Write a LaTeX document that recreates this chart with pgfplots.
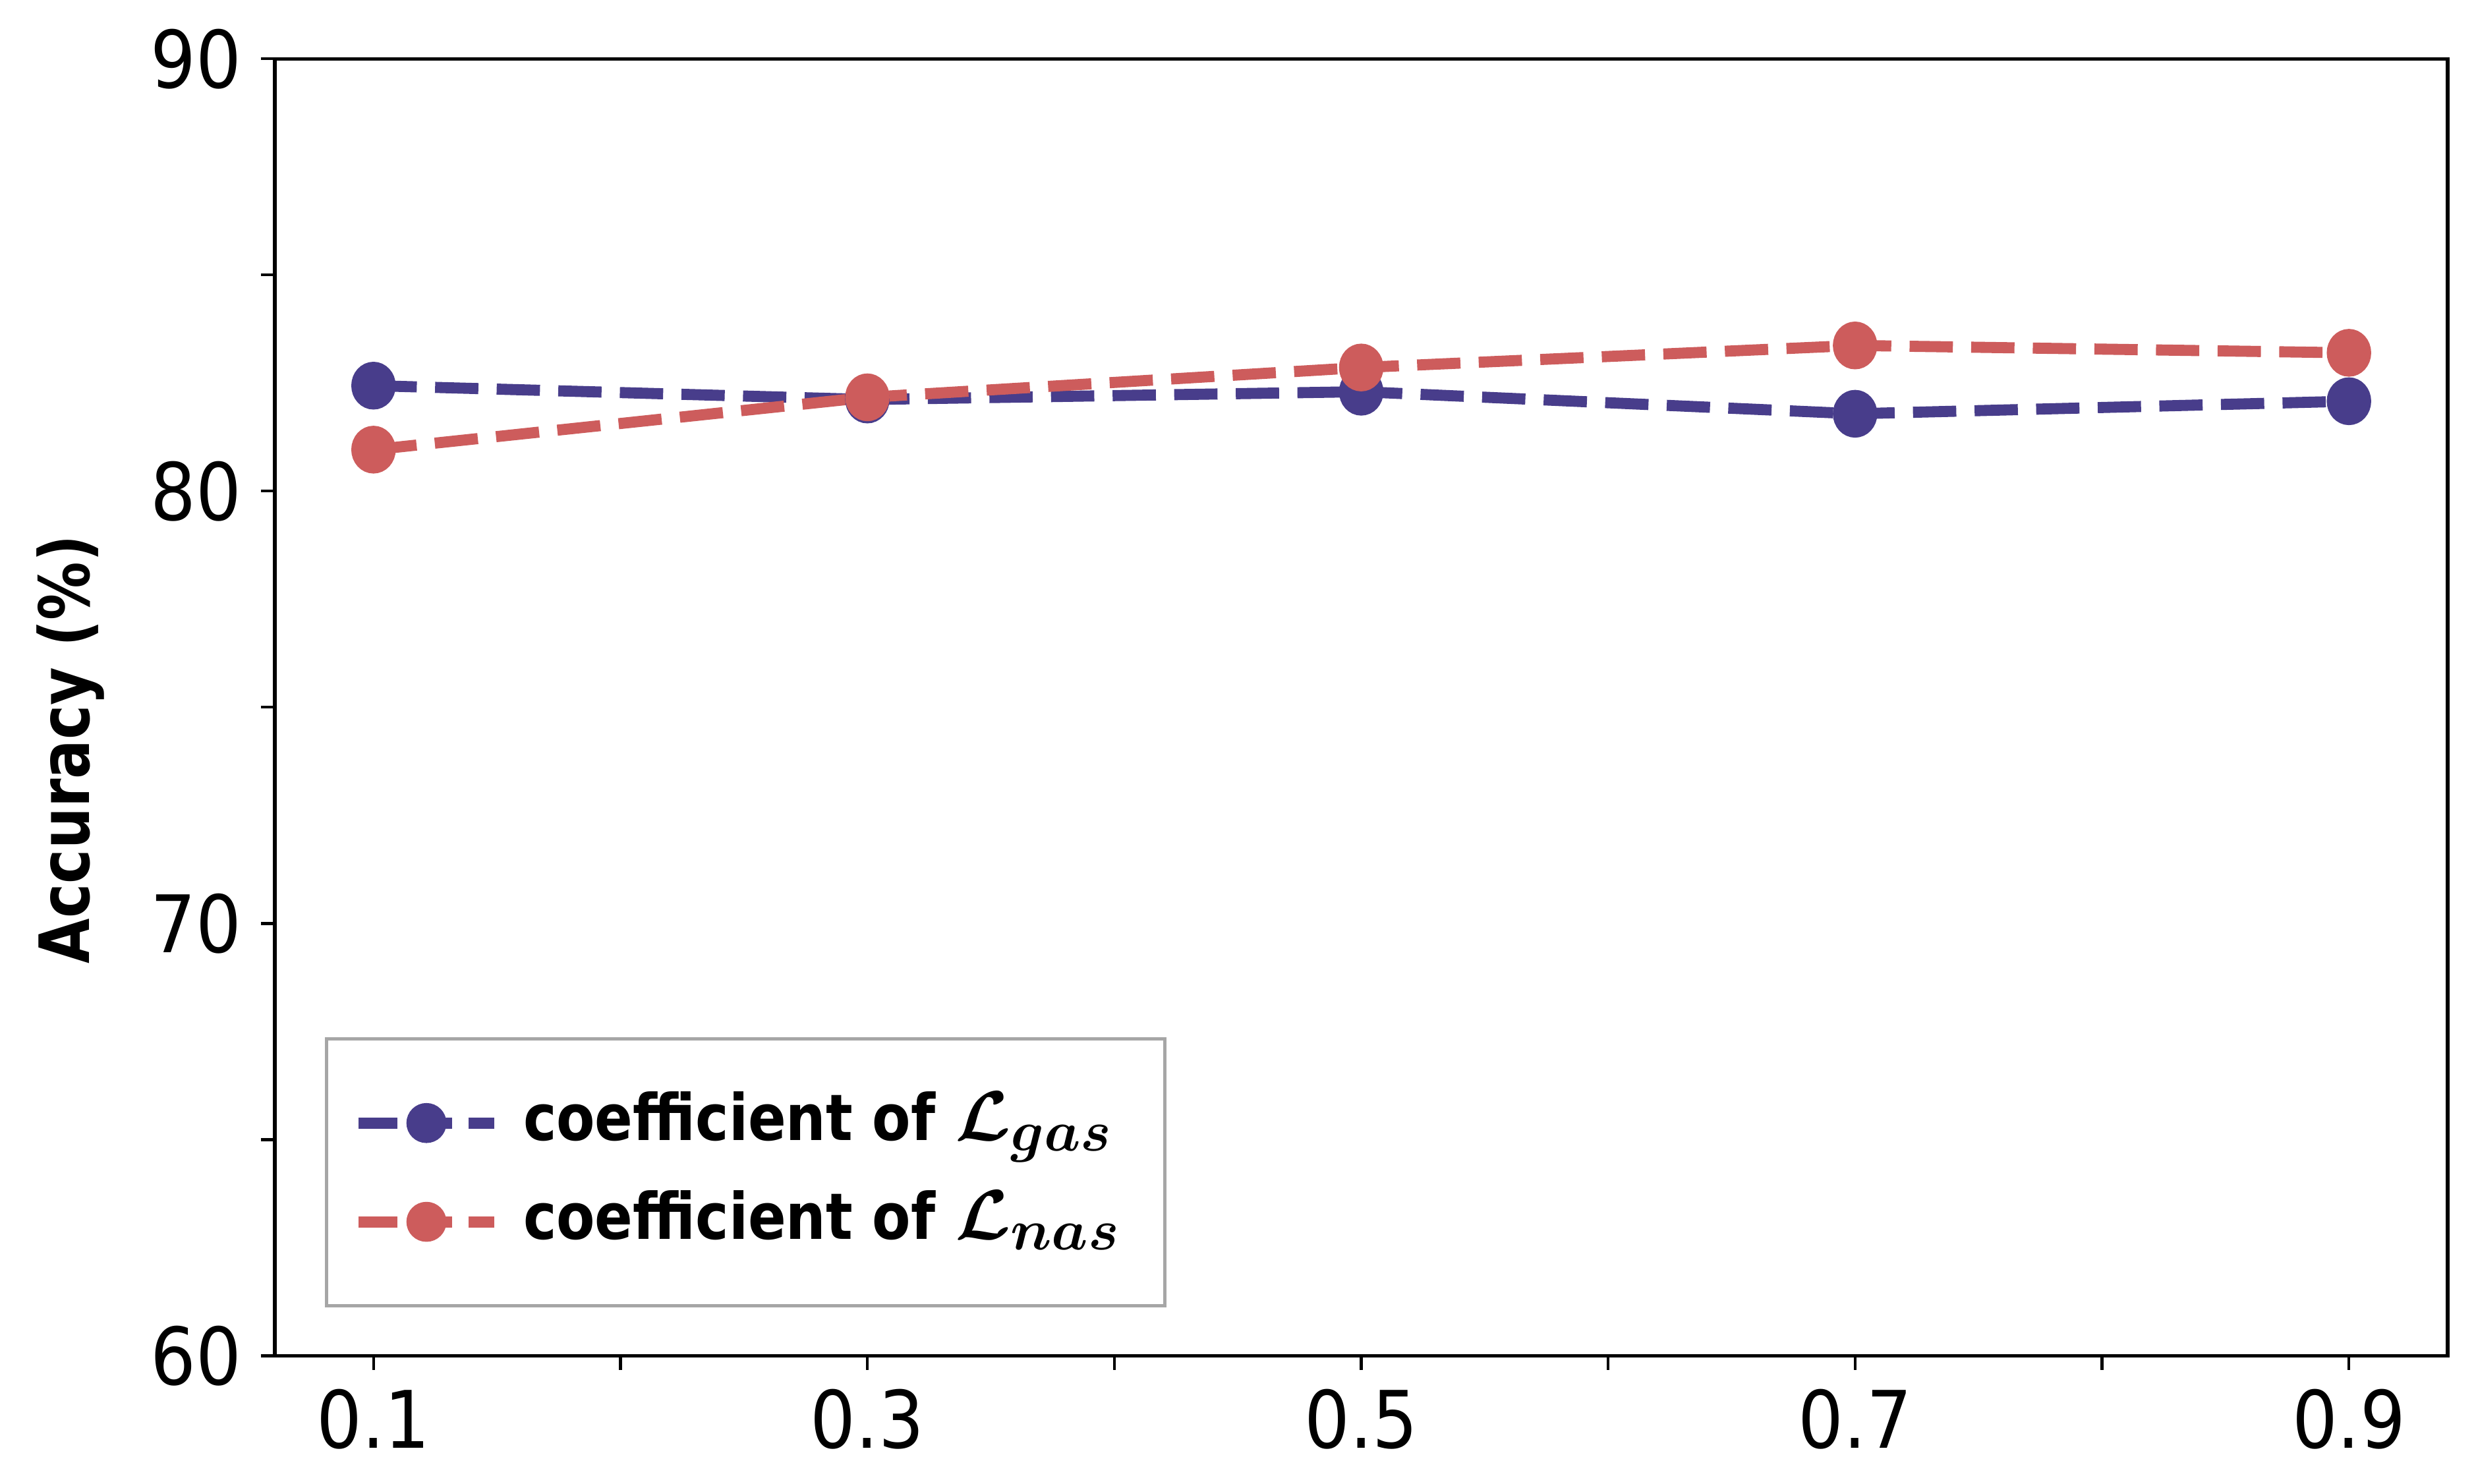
\RequirePackage{fix-cm}
\documentclass[border=0pt]{standalone}
\usepackage{fontspec}
\usepackage{pgfplots}
\pgfplotsset{compat=1.18}
\setmainfont{DejaVu Sans}[FakeStretch=0.9]
\newfontfamily\condfont{DejaVu Sans}[FakeStretch=0.84]
\newfontfamily\legfont{DejaVu Sans}[FakeStretch=0.875]
\DeclareMathSizes{11.55}{12.7}{10.4}{7.5}
\definecolor{cblue}{RGB}{72,61,139}
\definecolor{cred}{RGB}{205,92,92}
\definecolor{lgray}{RGB}{166,166,166}
\newcommand{\legtext}[1]{\makebox[110.9pt][l]{\legfont\bfseries\fontsize{11.55}{14}\selectfont\boldmath #1}}
\begin{document}
\begin{tikzpicture}
\begin{axis}[
  scale only axis, width=391.5pt, height=233.7pt,
  xmin=0.06, xmax=0.94, ymin=60, ymax=90,
  xtick={0.1,0.2,0.3,0.4,0.5,0.6,0.7,0.8,0.9},
  xticklabels={0.1,,0.3,,0.5,,0.7,,0.9},
  ytick={60,65,70,75,80,85,90},
  yticklabels={60,,70,,80,,90},
  tick align=outside, tick pos=left,
  major tick length=2.5pt,
  tick style={line width=0.5pt, black},
  axis line style={line width=0.65pt},
  ticklabel style={font=\fontsize{14.3}{16}\selectfont},
  ylabel={\condfont\bfseries\fontsize{12.5}{14}\selectfont Accuracy (\%)},
  every axis y label/.style={at={(axis description cs:-0.0852,0.4675)}, rotate=90, anchor=base},
  legend cell align=left,
  legend style={at={(axis description cs:0.0232,0.0372)}, anchor=south west, draw=lgray, line width=0.6pt, inner xsep=4.7pt, inner ysep=6.25pt, row sep=0pt, column sep=4.2pt, nodes={inner sep=0pt, text height=12.05pt, text depth=5.75pt}, fill=white},
  legend image code/.code={\draw[#1, dash pattern=on 7pt off 2.9pt, mark repeat=2, mark phase=2, mark size=2.6pt, every mark/.append style={xscale=1.0989}] plot coordinates {(0pt,0pt) (12.25pt,0pt) (24.5pt,0pt)};},
]
\addplot[cblue, line width=2pt, dash pattern=on 7.8pt off 3.3pt, mark=*, mark size=3.3pt, mark options={solid, xscale=0.91, fill=cblue}]
  coordinates {(0.1,82.44) (0.3,82.12) (0.5,82.30) (0.7,81.79) (0.9,82.08)};
\addlegendentry{\legtext{coefficient of $\mathcal{L}_{gas}$}}
\addplot[cred, line width=2pt, dash pattern=on 7.8pt off 3.3pt, mark=*, mark size=3.3pt, mark options={solid, xscale=0.91, fill=cred}]
  coordinates {(0.1,80.96) (0.3,82.17) (0.5,82.86) (0.7,83.37) (0.9,83.20)};
\addlegendentry{\legtext{coefficient of $\mathcal{L}_{nas}$}}
\coordinate (O) at (rel axis cs:0,0);
\end{axis}
\pgfresetboundingbox
\path[use as bounding box] (O) ++(-49.5pt,-23pt) rectangle ++(446.1pt,267.3pt);
\end{tikzpicture}
\end{document}
